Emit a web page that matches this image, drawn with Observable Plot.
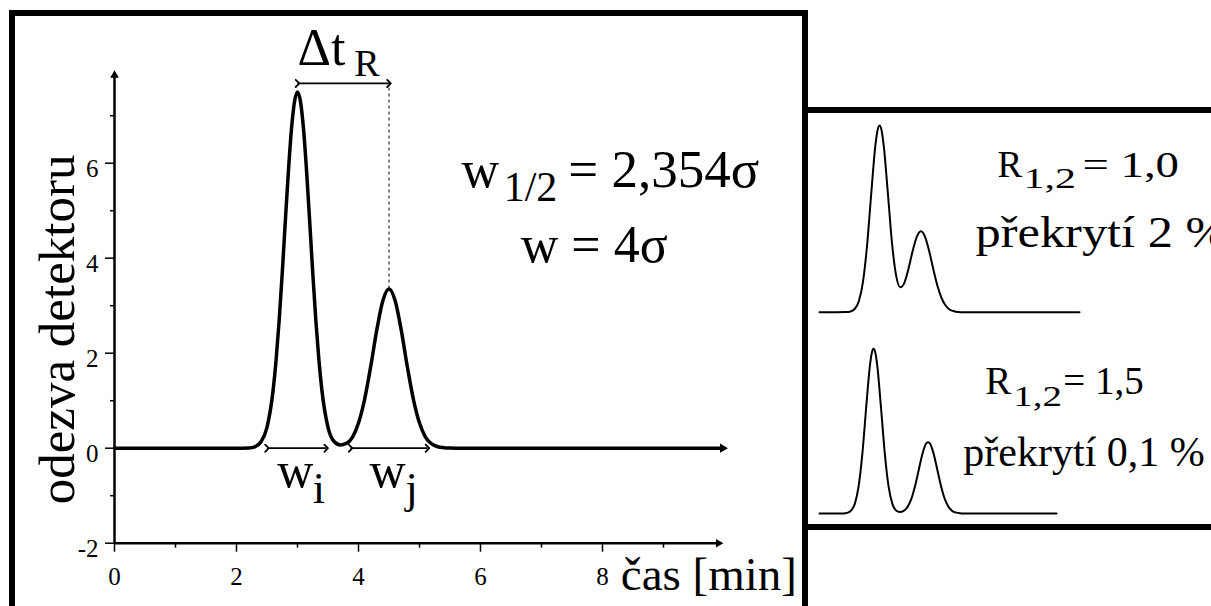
<!DOCTYPE html>
<html><head><meta charset="utf-8">
<script src="https://cdn.jsdelivr.net/npm/d3@7"></script>
<script src="https://cdn.jsdelivr.net/npm/@observablehq/plot@0.6"></script>
<style>
body{margin:0;background:#fff;}
#stage{position:relative;width:1211px;height:606px;overflow:hidden;background:#fff;}
.bar{position:absolute;background:#000;}
.panel{position:absolute;}
.panel svg{overflow:visible;display:block;}
.panel svg text{font-family:"Liberation Serif",serif !important;}
</style></head><body>
<div id="stage">
  <div id="main" class="panel" style="left:0;top:0;width:803px;height:606px"></div>
  <div id="inset1" class="panel" style="left:808px;top:113px;width:403px;height:205px"></div>
  <div id="inset2" class="panel" style="left:808px;top:318px;width:403px;height:206px"></div>
  <div class="bar" style="left:9px;top:10px;width:799px;height:6px"></div>
  <div class="bar" style="left:9px;top:10px;width:6px;height:596px"></div>
  <div class="bar" style="left:802px;top:10px;width:6px;height:596px"></div>
  <div class="bar" style="left:802px;top:107px;width:409px;height:6px"></div>
  <div class="bar" style="left:802px;top:524px;width:409px;height:6px"></div>
</div>
<script>
// ---- main chromatogram (time in min, detector response) ----
const mainTime = [0, 1, 2.0, 2.1, 2.2, 2.3, 2.4, 2.5, 2.6, 2.65, 2.7, 2.75, 2.8, 2.85, 2.9, 2.95, 3.0, 3.05, 3.1, 3.15, 3.2, 3.25, 3.3, 3.35, 3.4, 3.5, 3.6, 3.7, 3.8, 3.9, 4.0, 4.1, 4.2, 4.3, 4.4, 4.5, 4.6, 4.7, 4.8, 4.9, 5.0, 5.1, 5.2, 5.3, 5.4, 5.5, 5.6, 6, 10];
const mainResponse = [0, 0, 0, 0.001, 0.005, 0.03, 0.13, 0.44, 1.22, 1.87, 2.70, 3.69, 4.77, 5.81, 6.70, 7.29, 7.50, 7.29, 6.70, 5.81, 4.77, 3.69, 2.70, 1.87, 1.22, 0.44, 0.14, 0.07, 0.10, 0.23, 0.53, 1.03, 1.72, 2.49, 3.11, 3.35, 3.11, 2.49, 1.72, 1.03, 0.53, 0.23, 0.09, 0.03, 0.01, 0.002, 0, 0, 0];
const xTicksMajor = [0, 2, 4, 6, 8];
const xTicksMinor = [1, 3, 5, 7, 9];
const yTicksMajor = [-2, 0, 2, 4, 6];
const yTicksMinor = [-1, 1, 3, 5, 7];
const peakTimes = [3, 4.5];
const peakHeights = [7.5, 3.35];
const peakBaseWidths = [[2.5, 3.47], [3.87, 5.13]];
const yAxisTitle = "odezva detektoru";
const xAxisTitle = "čas [min]";
const formulaLines = [["w", "1/2", "= 2,354σ"], ["w = 4σ"]];
const widthLabels = [["w", "i"], ["w", "j"]];
const deltaLabel = ["Δt", "R"];
// ---- insets ----
const inset1Time = [1.55, 2.2, 2.3, 2.4, 2.5, 2.6, 2.7, 2.8, 2.9, 2.95, 3.0, 3.05, 3.1, 3.2, 3.3, 3.4, 3.5, 3.6, 3.7, 3.8, 3.9, 4.0, 4.1, 4.2, 4.3, 4.4, 4.5, 4.6, 4.7, 4.8, 4.9, 5.0, 7.83];
const inset1Response = [0, 0.005, 0.03, 0.13, 0.44, 1.22, 2.70, 4.77, 6.70, 7.29, 7.50, 7.30, 6.71, 4.81, 2.80, 1.48, 1.00, 1.18, 1.75, 2.46, 3.03, 3.25, 3.03, 2.45, 1.72, 1.05, 0.56, 0.26, 0.10, 0.04, 0.01, 0, 0];
const inset1Labels = ["R", "1,2", "= 1,0", "překrytí 2 %"];
const inset2Time = [1.56, 2.2, 2.3, 2.4, 2.5, 2.6, 2.7, 2.8, 2.9, 2.95, 3.0, 3.05, 3.1, 3.2, 3.3, 3.4, 3.5, 3.6, 3.7, 3.8, 3.9, 4.0, 4.1, 4.2, 4.3, 4.4, 4.45, 4.5, 4.6, 4.7, 4.8, 4.9, 5.0, 5.1, 5.2, 5.3, 5.4, 7.87];
const inset2Response = [0, 0.005, 0.03, 0.13, 0.44, 1.22, 2.70, 4.77, 6.70, 7.29, 7.50, 7.29, 6.70, 4.77, 2.70, 1.22, 0.44, 0.14, 0.07, 0.12, 0.29, 0.64, 1.22, 1.97, 2.71, 3.19, 3.25, 3.19, 2.71, 1.97, 1.22, 0.64, 0.29, 0.11, 0.04, 0.01, 0, 0];
const inset2Labels = ["R", "1,2", "= 1,5", "překrytí 0,1 %"];

const FONT = "Liberation Serif";
const T = (s, o) => Plot.text([s], {text: d => d, fill: "black", fontFamily: FONT, lineAnchor: "bottom", textAnchor: "start", ...o});

const arrowY = 7.68;
const main = Plot.plot({
  width: 803, height: 606,
  marginLeft: 114, marginRight: 79, marginTop: 67.7, marginBottom: 63.3,
  x: {domain: [0, 10]},
  y: {domain: [-2, 8]},
  style: {fontFamily: FONT, background: "transparent", overflow: "visible", color: "black"},
  marks: [
    // tick marks
    Plot.axisX({ticks: xTicksMajor, tickSize: 9, label: null, strokeWidth: 1.5, tickFormat: () => ""}),
    Plot.axisX({ticks: xTicksMinor, tickSize: 5, label: null, strokeWidth: 1.5, tickFormat: () => ""}),
    Plot.axisY({ticks: yTicksMajor, tickSize: 9, label: null, strokeWidth: 1.5, tickFormat: () => ""}),
    Plot.axisY({ticks: yTicksMinor, tickSize: 4, label: null, strokeWidth: 1.5, tickFormat: () => ""}),
    // tick labels
    Plot.text(xTicksMajor, {x: d => d, y: -2, text: d => String(d), dy: 42, lineAnchor: "bottom", textAnchor: "middle", fontSize: 25, fontFamily: FONT, fill: "black"}),
    Plot.text(yTicksMajor, {x: 0, y: d => d, text: d => String(d), dx: -16, dy: 6, lineAnchor: "middle", textAnchor: "end", fontSize: 25, fontFamily: FONT, fill: "black"}),
    // axis lines with arrowheads
    Plot.ruleY([-2], {x1: 0, x2: 9.9, strokeWidth: 2.5}),
    Plot.ruleX([0], {y1: -2, y2: 7.85, strokeWidth: 2.5}),
    Plot.dot([0], {x: 9.9, y: -2, symbol: "triangle", r: 3.2, fill: "black", stroke: "none", rotate: 90}),
    Plot.dot([0], {x: 0, y: 7.85, symbol: "triangle", r: 3.2, fill: "black", stroke: "none"}),
    // chromatogram
    Plot.line(mainTime, {x: mainTime, y: mainResponse, curve: "monotone-x", strokeWidth: 3.5, stroke: "black"}),
    Plot.dot([0], {x: 9.97, y: 0, symbol: "triangle", r: 3.4, fill: "black", stroke: "none", rotate: 90}),
    // retention difference
    Plot.link([0], {x1: peakTimes[0], x2: peakTimes[1], y1: arrowY, y2: arrowY, markerStart: "arrow", markerEnd: "arrow", strokeWidth: 1.8, stroke: "black"}),
    Plot.ruleX([peakTimes[1]], {y1: peakHeights[1], y2: arrowY, strokeDasharray: "3,3", strokeWidth: 1, stroke: "black"}),
    // base widths
    Plot.link(peakBaseWidths, {x1: d => d[0], x2: d => d[1], y1: 0, y2: 0, markerStart: "arrow", markerEnd: "arrow", strokeWidth: 1.8, stroke: "black"}),
    // labels
    T(deltaLabel[0], {x: 3.0, y: 8.06, fontSize: 52}),
    T(deltaLabel[1], {x: 3.93, y: 7.83, fontSize: 38}),
    T(formulaLines[0][0], {x: 5.69, y: 5.49, fontSize: 52}),
    T(formulaLines[0][1], {x: 6.38, y: 5.2, fontSize: 42}),
    T(formulaLines[0][2], {x: 7.44, y: 5.49, fontSize: 53}),
    T(formulaLines[1][0], {x: 6.66, y: 3.92, fontSize: 52}),
    T(widthLabels[0][0], {x: 2.67, y: -0.82, fontSize: 50}),
    T(widthLabels[0][1], {x: 3.25, y: -1.16, fontSize: 44}),
    T(widthLabels[1][0], {x: 4.18, y: -0.82, fontSize: 50}),
    T(widthLabels[1][1], {x: 4.77, y: -1.16, fontSize: 44}),
    T(xAxisTitle, {x: 8.3, y: -2.99, fontSize: 47}),
    Plot.text([yAxisTitle], {x: -0.934, y: 2.5, text: d => d, rotate: -90, fontSize: 51, fontFamily: FONT, fill: "black", lineAnchor: "middle", textAnchor: "middle"})
  ]
});
document.getElementById("main").appendChild(main);

function inset(time, resp, labels, dom, box, pos, fs, stretch) {
  const svg = Plot.plot({
    width: 403, height: box.h,
    marginLeft: box.ml, marginRight: box.mr, marginTop: box.mt, marginBottom: box.mb,
    x: {domain: dom, axis: null},
    y: {domain: [0, 7.5], axis: null},
    style: {fontFamily: FONT, background: "transparent", overflow: "visible"},
    marks: [
      Plot.line(time, {x: time, y: resp, curve: "monotone-x", strokeWidth: 2, stroke: "black"}),
      T(labels[0], {x: pos.r[0], y: pos.r[1], fontSize: fs[0]}),
      T(labels[1], {x: pos.s[0], y: pos.s[1], fontSize: fs[1]}),
      T(labels[2], {x: pos.e[0], y: pos.e[1], fontSize: fs[2]}),
      T(labels[3], {x: pos.p[0], y: pos.p[1], fontSize: fs[3]})
    ]
  });
  // horizontal stretch of the inset lettering, as in the original artwork
  svg.querySelectorAll("text").forEach(el => {
    const i = labels.indexOf(el.textContent);
    if (i >= 0 && stretch[i] !== 1) {
      const tr = el.getAttribute("transform") || "";
      el.setAttribute("transform", `${tr} scale(${stretch[i]},1)`);
    }
  });
  return svg;
}
document.getElementById("inset1").appendChild(inset(inset1Time, inset1Response, inset1Labels, [1.55, 7.83],
  {h: 205, ml: 11, mr: 132, mt: 12, mb: 6.3},
  {r: [5.85, 5.45], s: [6.48, 5.0], e: [7.9, 5.45], p: [5.32, 2.60]},
  [37, 30, 36, 45], [1, 1.4, 1.3, 1.12]));
document.getElementById("inset2").appendChild(inset(inset2Time, inset2Response, inset2Labels, [1.56, 7.87],
  {h: 206, ml: 11, mr: 155, mt: 30.3, mb: 11},
  {r: [5.97, 5.45], s: [6.72, 4.9], e: [8.05, 5.45], p: [5.39, 2.18]},
  [39, 30, 39, 42], [1, 1.3, 1, 1]));
</script>
</body></html>
